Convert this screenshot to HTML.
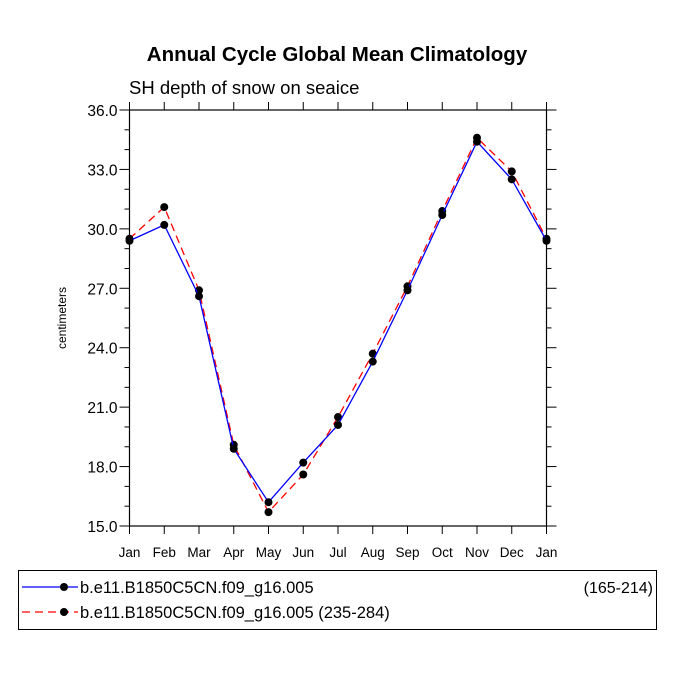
<!DOCTYPE html>
<html><head><meta charset="utf-8"><style>
body{margin:0;background:#fff;font-family:"Liberation Sans",sans-serif}
</style></head><body>
<svg width="675" height="676" xmlns="http://www.w3.org/2000/svg" font-family="Liberation Sans, sans-serif">
<rect width="675" height="676" fill="#fff"/>
<text x="337" y="61" text-anchor="middle" font-size="20.5" font-weight="bold">Annual Cycle Global Mean Climatology</text>
<text x="129" y="94" font-size="18.5">SH depth of snow on seaice</text>
<text transform="translate(66,318) rotate(-90)" text-anchor="middle" font-size="12">centimeters</text>
<g id="axes"></g>
<g id="series"></g>
<g>
<rect x="18.5" y="570.5" width="638" height="59" fill="none" stroke="#000" stroke-width="1"/>
<line x1="22" y1="587" x2="78" y2="587" stroke="#00f" stroke-width="1.2"/>
<circle cx="64" cy="587" r="4" fill="#000"/>
<text x="80" y="593" font-size="16.5">b.e11.B1850C5CN.f09_g16.005</text>
<text x="653" y="593" font-size="16" text-anchor="end">(165-214)</text>
<line x1="22" y1="612" x2="78" y2="612" stroke="#f00" stroke-width="1.2" stroke-dasharray="8,5"/>
<circle cx="64" cy="612" r="4" fill="#000"/>
<text x="80" y="618" font-size="16.5">b.e11.B1850C5CN.f09_g16.005 (235-284)</text>
</g>
</svg>
<script>
const months=["Jan","Feb","Mar","Apr","May","Jun","Jul","Aug","Sep","Oct","Nov","Dec","Jan"];
const yTicks=[15,18,21,24,27,30,33,36];
const seriesA=[29.4,30.2,26.6,18.9,16.2,18.2,20.1,23.3,26.9,30.7,34.4,32.5,29.4];
const seriesB=[29.5,31.1,26.9,19.1,15.7,17.6,20.5,23.7,27.1,30.9,34.6,32.9,29.5];
const L=129.5,R=546.5,T=110,B=526,ymin=15,ymax=36;
const xs=i=>L+(R-L)*i/(months.length-1);
const ys=v=>B-(v-ymin)/(ymax-ymin)*(B-T);
const NS="http://www.w3.org/2000/svg";
function mk(t,a,p){const e=document.createElementNS(NS,t);for(const k in a)e.setAttribute(k,a[k]);p.appendChild(e);return e;}
const ax=document.getElementById('axes');
const fr=mk('rect',{x:L,y:T,width:R-L,height:B-T,fill:'none',stroke:'#000','stroke-width':1.2},ax);


months.forEach((m,i)=>{const x=xs(i);
mk('line',{x1:x,y1:B,x2:x,y2:B+8,stroke:'#000'},ax);
mk('line',{x1:x,y1:T,x2:x,y2:T-8,stroke:'#000'},ax);
const t=mk('text',{x:x,y:B+31,'text-anchor':'middle','font-size':13.5},ax);t.textContent=m;

});
for(let v=ymin;v<=ymax;v+=1){const y=ys(v);const maj=yTicks.includes(v);const len=maj?10:5;
mk('line',{x1:L,y1:y,x2:L-len,y2:y,stroke:'#000'},ax);
mk('line',{x1:R,y1:y,x2:R+len,y2:y,stroke:'#000'},ax);}
yTicks.forEach(v=>{const t=mk('text',{x:L-12,y:ys(v)+6,'text-anchor':'end','font-size':15.5},ax);t.textContent=v.toFixed(1);

});
const sg=document.getElementById('series');
function draw(d,col,dash,name){
const p=mk('polyline',{points:d.map((v,i)=>xs(i)+','+ys(v)).join(' '),fill:'none',stroke:col,'stroke-width':1.3,'stroke-dasharray':dash},sg);


d.forEach((v,i)=>{const c=mk('circle',{cx:xs(i),cy:ys(v),r:4,fill:'#000'},sg);

});}
draw(seriesB,'#f00','8,5','series-b');
draw(seriesA,'#00f','none','series-a');
</script>
</body></html>
